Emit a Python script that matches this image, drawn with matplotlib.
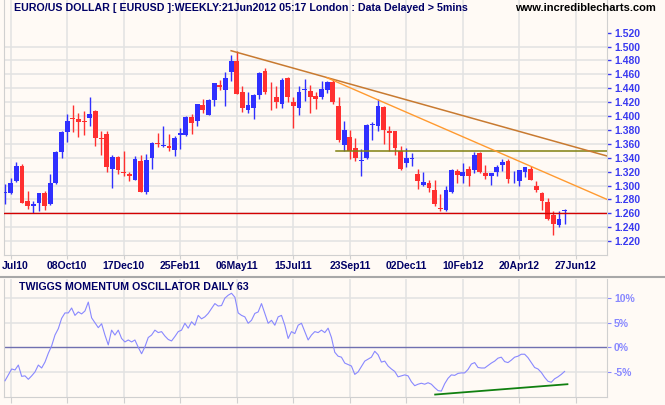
import numpy as np
import matplotlib.pyplot as plt
from matplotlib.lines import Line2D

# weekly EURUSD candles (Jul 2010 - Jun 2012)
opens = [1.289, 1.289, 1.307, 1.328, 1.278, 1.271, 1.275, 1.289, 1.273, 1.303,
         1.348, 1.377, 1.397, 1.396, 1.393, 1.397, 1.407, 1.368, 1.374, 1.324,
         1.341, 1.319, 1.317, 1.308, 1.335, 1.290, 1.339, 1.361, 1.357, 1.357,
         1.351, 1.372, 1.373, 1.399, 1.393, 1.416, 1.402, 1.423, 1.445, 1.438,
         1.463, 1.479, 1.435, 1.408, 1.412, 1.430, 1.465, 1.432, 1.428, 1.417,
         1.455, 1.420, 1.412, 1.437, 1.436, 1.429, 1.427, 1.437, 1.449, 1.415,
         1.359, 1.370, 1.354, 1.336, 1.339, 1.387, 1.385, 1.413, 1.379, 1.379,
         1.350, 1.332, 1.338, 1.317, 1.301, 1.303, 1.294, 1.267, 1.265, 1.290,
         1.321, 1.313, 1.324, 1.323, 1.347, 1.318, 1.313, 1.319, 1.329, 1.336,
         1.306, 1.307, 1.320, 1.324, 1.300, 1.289, 1.276, 1.257, 1.243, 1.264]
highs = [1.302, 1.311, 1.334, 1.331, 1.292, 1.278, 1.289, 1.292, 1.317, 1.350,
         1.379, 1.403, 1.416, 1.405, 1.407, 1.428, 1.409, 1.378, 1.378, 1.344,
         1.343, 1.350, 1.320, 1.342, 1.344, 1.345, 1.363, 1.376, 1.386, 1.374,
         1.371, 1.383, 1.400, 1.403, 1.418, 1.425, 1.425, 1.448, 1.452, 1.464,
         1.488, 1.493, 1.443, 1.435, 1.432, 1.464, 1.469, 1.449, 1.443, 1.455,
         1.456, 1.428, 1.443, 1.454, 1.445, 1.435, 1.451, 1.451, 1.454, 1.428,
         1.393, 1.380, 1.369, 1.352, 1.389, 1.392, 1.425, 1.415, 1.386, 1.379,
         1.357, 1.354, 1.347, 1.324, 1.320, 1.308, 1.308, 1.288, 1.300, 1.324,
         1.324, 1.333, 1.328, 1.348, 1.348, 1.330, 1.318, 1.330, 1.338, 1.338,
         1.321, 1.323, 1.327, 1.328, 1.307, 1.291, 1.282, 1.263, 1.263, 1.266]
lows = [1.273, 1.288, 1.305, 1.275, 1.266, 1.260, 1.264, 1.265, 1.272, 1.302,
        1.339, 1.363, 1.377, 1.370, 1.373, 1.386, 1.357, 1.344, 1.320, 1.297,
        1.317, 1.314, 1.307, 1.308, 1.291, 1.288, 1.324, 1.355, 1.355, 1.350,
        1.343, 1.353, 1.371, 1.374, 1.386, 1.405, 1.402, 1.415, 1.437, 1.415,
        1.450, 1.431, 1.406, 1.405, 1.396, 1.425, 1.432, 1.408, 1.412, 1.411,
        1.420, 1.383, 1.402, 1.421, 1.405, 1.410, 1.425, 1.433, 1.418, 1.363,
        1.350, 1.338, 1.335, 1.314, 1.338, 1.366, 1.379, 1.360, 1.350, 1.344,
        1.322, 1.326, 1.328, 1.295, 1.300, 1.291, 1.271, 1.263, 1.264, 1.289,
        1.303, 1.303, 1.299, 1.318, 1.318, 1.310, 1.301, 1.314, 1.321, 1.304,
        1.304, 1.300, 1.312, 1.308, 1.291, 1.265, 1.251, 1.229, 1.240, 1.245]
closes = [1.291, 1.303, 1.328, 1.275, 1.271, 1.273, 1.289, 1.271, 1.303, 1.348,
          1.377, 1.393, 1.396, 1.392, 1.392, 1.403, 1.369, 1.367, 1.326, 1.341,
          1.323, 1.318, 1.313, 1.338, 1.291, 1.337, 1.361, 1.360, 1.358, 1.354,
          1.369, 1.376, 1.399, 1.390, 1.418, 1.409, 1.423, 1.448, 1.442, 1.455,
          1.479, 1.431, 1.412, 1.416, 1.430, 1.462, 1.435, 1.431, 1.420, 1.452,
          1.427, 1.415, 1.435, 1.438, 1.428, 1.425, 1.439, 1.449, 1.420, 1.366,
          1.380, 1.350, 1.339, 1.337, 1.387, 1.388, 1.415, 1.380, 1.375, 1.354,
          1.324, 1.340, 1.339, 1.306, 1.305, 1.297, 1.273, 1.266, 1.294, 1.322,
          1.315, 1.319, 1.314, 1.344, 1.319, 1.313, 1.318, 1.327, 1.334, 1.310,
          1.307, 1.323, 1.326, 1.308, 1.293, 1.278, 1.252, 1.244, 1.252, 1.265]

# x-axis labels (week index of each label)
tick_weeks = [1, 11, 21, 31, 41, 51, 61, 71, 81, 91, 101]
tick_labels = ['Jul10', '08Oct10', '17Dec10', '25Feb11', '06May11', '15Jul11',
               '23Sep11', '02Dec11', '10Feb12', '20Apr12', '27Jun12']
price_ticks = [1.22, 1.24, 1.26, 1.28, 1.30, 1.32, 1.34, 1.36, 1.38, 1.40,
               1.42, 1.44, 1.46, 1.48, 1.50, 1.52]

# trend lines drawn on the chart
trend_outer = ([40, 106.5], [1.494, 1.3425])
trend_inner = ([57, 106.5], [1.455, 1.280])
support = 1.260
resistance = (58.5, 1.350)

# Twiggs momentum (daily, %), sampled across the same weeks
osc = [-6.8, -5.6, -4.4, -4.6, -3.6, -5.9, -5.8, -6.5, -5.8, -5.0,
       -3.6, -4.2, -3.0, -1.2, 0.3, 2.5, 3.8, 5.9, 7.0, 7.0,
       8.0, 6.5, 7.2, 6.8, 7.4, 9.2, 6.0, 5.0, 4.0, 4.8,
       2.5, 0.5, 3.5, 2.5, 3.5, 1.8, 1.1, 1.5, 1.1, 1.5,
       0.0, -1.3, 0.1, 2.0, 2.5, 3.5, 3.0, 3.2, 2.3, 1.6,
       1.3, 2.2, 3.2, 3.5, 4.9, 3.9, 5.2, 4.5, 6.5, 5.8,
       6.2, 6.9, 7.9, 8.9, 8.4, 8.5, 10.0, 10.6, 11.0, 10.2,
       7.0, 6.5, 6.2, 4.9, 5.5, 6.9, 7.2, 8.9, 6.9, 4.9,
       5.5, 4.5, 6.2, 6.5, 4.5, 1.8, 3.2, 2.8, 4.5, 4.9,
       3.2, 1.5, 2.5, 3.2, 3.0, 3.5, 3.0, 3.9,
       2.0, -1.0, -1.8, -2.0, -3.2, -3.5, -3.8, -5.5, -5.0, -3.9,
       -2.8, -2.4, -2.0, -0.8, -1.5, -3.0, -2.8, -3.8, -4.4, -4.9,
       -6.0, -5.8, -5.6, -5.8, -7.0, -7.8, -7.5, -7.3, -7.5, -7.2,
       -7.5, -8.2, -8.8, -8.9, -7.4, -6.3, -5.6, -5.7, -5.3, -5.2,
       -5.2, -4.5, -3.4, -3.1, -4.1, -4.2, -4.2, -3.7, -3.2, -2.8,
       -2.2, -2.0, -2.9, -3.1, -2.6, -2.0, -1.8, -1.4, -1.4, -2.1,
       -3.1, -4.1, -4.4, -5.1, -6.1, -6.9, -7.1, -6.4, -6.0, -5.5, -4.9]
osc_ticks = [-5, 0, 5, 10]
osc_trend = ([76.1, 99.5], [-9.6, -7.5])

bg = '#fffaf5'
grid_c = '#e2e2e2'
navy = '#000066'
plt.rcParams['font.family'] = ['Liberation Sans', 'DejaVu Sans']

fig = plt.figure(figsize=(6.65, 4.05), dpi=100, facecolor=bg)
ax = fig.add_axes([4/665, 1 - 255/405, 603/665, 255/405], facecolor=bg)
ax2 = fig.add_axes([4/665, 8/405, 603/665, 118/405], facecolor=bg)

weeks = np.arange(len(opens))
o = np.array(opens); h = np.array(highs); l = np.array(lows); c = np.array(closes)
cols = np.where(c >= o, '#3030ff', '#ff3030')

ax.vlines(weeks, l, h, colors=cols, linewidth=1.0, zorder=3)
ax.bar(weeks, np.maximum(np.abs(c - o), 0.0012), bottom=np.minimum(o, c),
       width=0.85, color=cols, linewidth=0, zorder=4)

for y in price_ticks[:-1]:
    ax.axhline(y, color=grid_c, lw=1.1, zorder=1)
for x in tick_weeks:
    ax.axvline(x, color=grid_c, lw=1.1, zorder=1)
    ax2.axvline(x, color=grid_c, lw=1.1, zorder=1)

ax.axhline(support, color='#d40000', lw=1.0, zorder=5)
ax.plot([resistance[0], 106.5], [resistance[1]] * 2, color='#808010', lw=1.1, zorder=5)
ax.plot(*trend_outer, color='#c87a30', lw=1.1, zorder=5)
ax.plot(*trend_inner, color='#ff9a30', lw=1.0, zorder=5)

ax.set_xlim(-0.18, 106.5)
ax.set_ylim(1.200, 1.567)
ax.set_xticks(tick_weeks)
ax.set_xticklabels([])
ax.yaxis.tick_right()
ax.set_yticks(price_ticks)
ax.set_yticklabels(['%.3f' % p for p in price_ticks])
ax.tick_params(axis='y', colors='#3a3af0', length=3, pad=2, labelsize=7.5, width=1)
ax.tick_params(axis='x', color='#d0d0d0', length=3)
for t in ax.get_yticklabels():
    t.set_fontweight('bold')
for s in ax.spines.values():
    s.set_color('#d0d0d0')
ax.spines['top'].set_visible(False)

for x, lab in zip(tick_weeks, tick_labels):
    if lab == 'Jul10':
        ax.annotate(lab, (x, 0), xycoords=('data', 'axes fraction'),
                    xytext=(-6.5, -8), textcoords='offset points', ha='left',
                    va='center', fontsize=7.5, fontweight='bold', color=navy)
    else:
        ax.annotate(lab, (x, 0), xycoords=('data', 'axes fraction'),
                    xytext=(0, -8), textcoords='offset points', ha='center',
                    va='center', fontsize=7.5, fontweight='bold', color=navy)

# oscillator panel
osc_weeks = np.linspace(0, len(opens) - 1, len(osc))
for y in osc_ticks:
    if y != 0:
        ax2.axhline(y, color=grid_c, lw=1.1, zorder=1)
ax2.axhline(0, color='#7070b0', lw=1.0, zorder=2)
ax2.plot(osc_weeks, osc, color='#8888ff', lw=0.8, zorder=3)
ax2.plot(*osc_trend, color='#108010', lw=1.3, zorder=4)
ax2.set_xlim(-0.18, 106.5)
ax2.set_ylim(-10.1, 13.9)
ax2.set_xticks(tick_weeks)
ax2.set_xticklabels([])
ax2.yaxis.tick_right()
ax2.set_yticks(osc_ticks)
ax2.set_yticklabels(['%d%%' % v for v in osc_ticks])
ax2.tick_params(axis='y', colors='#8888ff', length=3, pad=2, labelsize=7.5)
ax2.tick_params(axis='x', color='#d0d0d0', length=4)
for t in ax2.get_yticklabels():
    t.set_fontweight('bold')
for s in ax2.spines.values():
    s.set_color('#d0d0d0')
ax2.spines['top'].set_visible(False)
ax2.text(15/603, 0.93, 'TWIGGS MOMENTUM OSCILLATOR DAILY 63', transform=ax2.transAxes,
         fontsize=7.7, fontweight='bold', color=navy, va='center')

fig.add_artist(Line2D([0, 1], [1 - 277/405] * 2, color='#a8a8a8', lw=1.5,
                      transform=fig.transFigure))
fig.text(14/665, 1 - 8/405,
         'EURO/US DOLLAR [ EURUSD ]:WEEKLY:21Jun2012 05:17 London : Data Delayed > 5mins',
         fontsize=7.7, fontweight='bold', color=navy, va='center')
fig.text(656/665, 1 - 8/405, 'www.incrediblecharts.com', fontsize=8,
         fontweight='bold', color='black', va='center', ha='right')

fig.savefig('out.png', dpi=100, facecolor=bg)
